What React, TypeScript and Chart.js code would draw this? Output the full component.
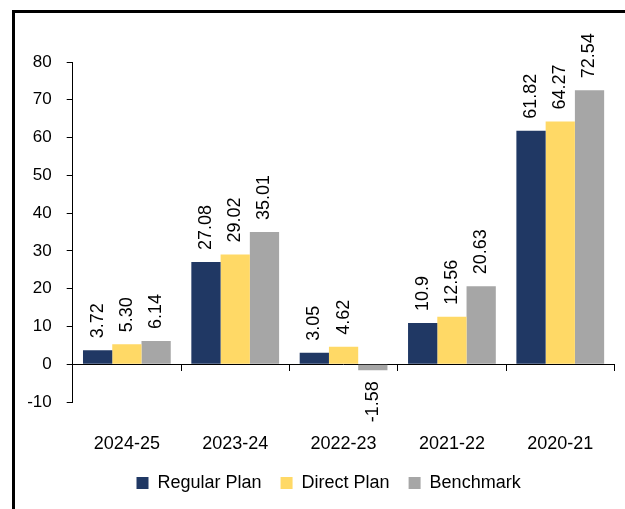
import React, { useEffect, useRef } from "react";
import { Chart, registerables } from "chart.js";

Chart.register(...registerables);

const categories = ["2024-25", "2023-24", "2022-23", "2021-22", "2020-21"];
const regularPlan = [3.72, 27.08, 3.05, 10.9, 61.82];
const directPlan = [5.3, 29.02, 4.62, 12.56, 64.27];
const benchmark = [6.14, 35.01, -1.58, 20.63, 72.54];
const regularLabels = ["3.72", "27.08", "3.05", "10.9", "61.82"];
const directLabels = ["5.30", "29.02", "4.62", "12.56", "64.27"];
const benchmarkLabels = ["6.14", "35.01", "-1.58", "20.63", "72.54"];
const yMin = -10;
const yMax = 80;
const yStep = 10;

const FONT = '"Liberation Sans", Arial, sans-serif';

const valueLabelsPlugin = {
  id: "valueLabels",
  afterDatasetsDraw(chart: any) {
    const ctx = chart.ctx;
    ctx.save();
    ctx.font = `18px ${FONT}`;
    ctx.fillStyle = "#000";
    ctx.textBaseline = "middle";
    chart.data.datasets.forEach((ds: any, i: number) => {
      const meta = chart.getDatasetMeta(i);
      meta.data.forEach((bar: any, j: number) => {
        const v = ds.data[j];
        const text = ds.valueLabels[j];
        const p = bar.getProps(["x", "y"], true);
        ctx.save();
        if (v >= 0) {
          ctx.translate(p.x, p.y - 12);
          ctx.rotate(-Math.PI / 2);
          ctx.textAlign = "left";
        } else {
          ctx.translate(p.x, p.y + 11);
          ctx.rotate(-Math.PI / 2);
          ctx.textAlign = "right";
        }
        ctx.fillText(text, 0, 0);
        ctx.restore();
      });
    });
    ctx.restore();
  },
};

const legendShiftPlugin = {
  id: "legendShift",
  afterLayout(chart: any) {
    const l = chart.legend;
    if (l) {
      l.left -= 15;
      l.right -= 15;
    }
  },
};

export default function App() {
  const ref = useRef<HTMLCanvasElement | null>(null);

  useEffect(() => {
    if (!ref.current) return;
    const chart = new Chart(ref.current, {
      type: "bar",
      data: {
        labels: categories,
        datasets: [
          { label: "Regular Plan", data: regularPlan, backgroundColor: "#203864", valueLabels: regularLabels } as any,
          { label: "Direct Plan", data: directPlan, backgroundColor: "#FFD966", valueLabels: directLabels } as any,
          { label: "Benchmark", data: benchmark, backgroundColor: "#A6A6A6", valueLabels: benchmarkLabels } as any,
        ],
      },
      options: {
        responsive: false,
        animation: false,
        datasets: { bar: { categoryPercentage: 0.81, barPercentage: 1 } },
        layout: { padding: { left: 15, top: 62, right: 7, bottom: 7 } },
        plugins: {
          legend: {
            position: "bottom",
            fullSize: false,
            labels: {
              boxWidth: 12,
              boxHeight: 12,
              padding: 19,
              color: "#000",
              font: { family: FONT, size: 18 },
            },
          },
          tooltip: { enabled: false },
        },
        scales: {
          x: {
            type: "category",
            offset: true,
            grid: { display: false, drawTicks: false },
            border: { display: false },
            ticks: { color: "#000", font: { family: FONT, size: 18 }, padding: 31, maxRotation: 0 },
            afterFit: (s: any) => {
              s.height = 53;
            },
          },
          xZero: {
            type: "category",
            axis: "x",
            labels: categories,
            position: { y: 0 },
            offset: true,
            grid: { display: true, offset: true, drawOnChartArea: false, drawTicks: true, tickLength: 6, color: "#000" },
            border: { display: true, color: "#000" },
            ticks: { display: false },
          } as any,
          y: {
            min: yMin,
            max: yMax,
            ticks: { stepSize: yStep, color: "#000", font: { family: FONT, size: 17 }, padding: 15 },
            grid: { drawOnChartArea: false, drawTicks: true, tickLength: 6, color: "#000" },
            border: { display: true, color: "#000" },
            afterFit: (s: any) => {
              s.width = 57.7;
            },
          },
        },
      },
      plugins: [valueLabelsPlugin, legendShiftPlugin],
    });
    return () => chart.destroy();
  }, []);

  return (
    <div>
      <div
        style={{
          position: "absolute",
          left: 12,
          top: 10,
          width: 620,
          height: 505,
          borderLeft: "3px solid #000",
          borderTop: "3px solid #000",
        }}
      />
      <canvas
        ref={ref}
        width={625}
        height={509}
        style={{ position: "absolute", left: 0, top: 0, width: 625, height: 509 }}
      />
    </div>
  );
}
